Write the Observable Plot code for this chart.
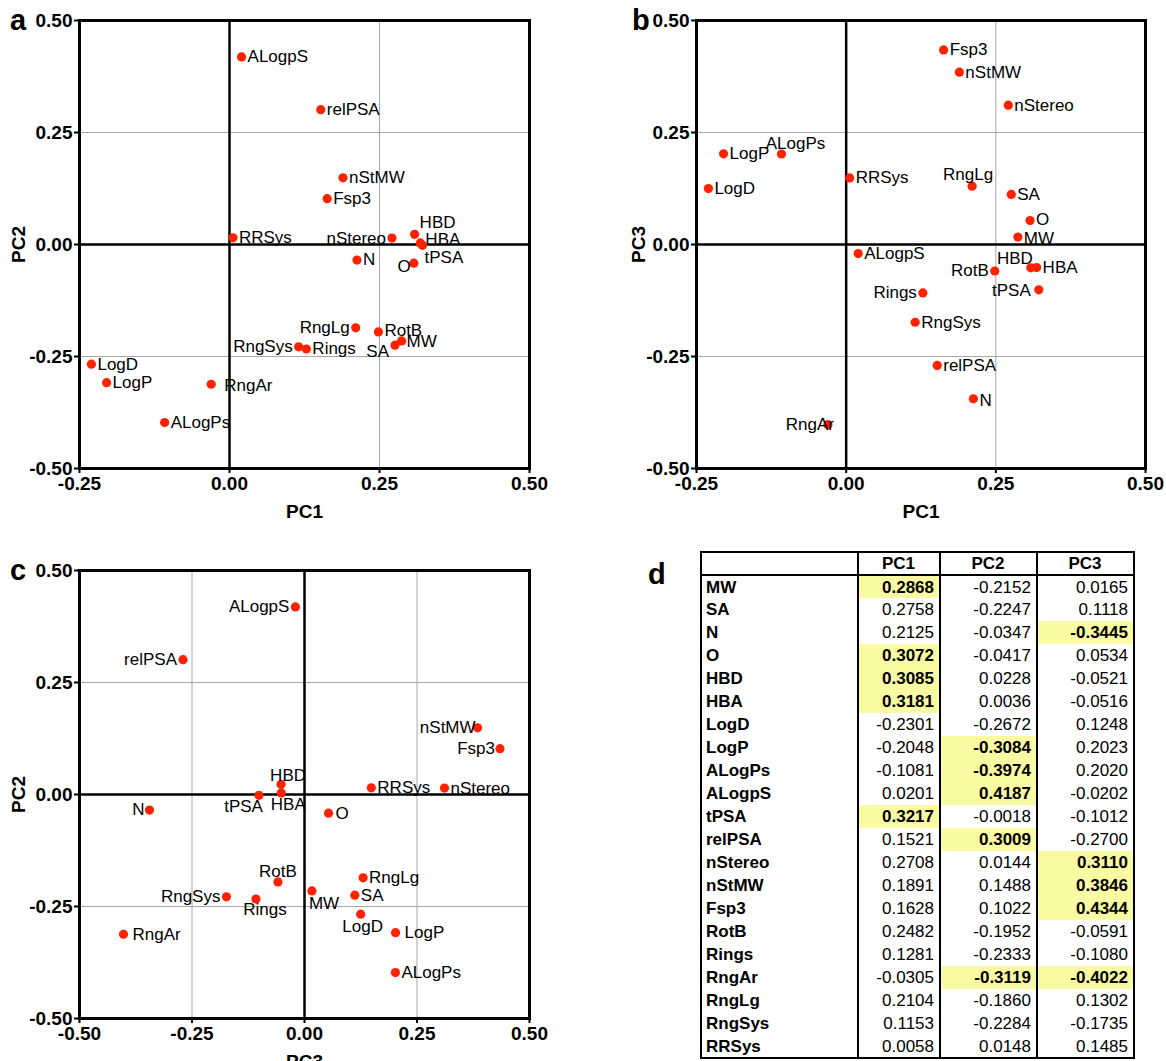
<!DOCTYPE html>
<html>
<head>
<meta charset="utf-8">
<script src="https://cdn.jsdelivr.net/npm/d3@7"></script>
<script src="https://cdn.jsdelivr.net/npm/@observablehq/plot@0.6"></script>
<style>
  html, body { margin: 0; padding: 0; background: #fff; overflow: hidden; width: 1166px; height: 1061px; }
  body { position: relative; font-family: "Liberation Sans", Arial, sans-serif; color: #000; }
  .panel { position: absolute; }
  .letter { position: absolute; font-weight: bold; font-size: 29px; line-height: 1; }
  #loadings {
    position: absolute; left: 700px; top: 551px;
    border-collapse: collapse; table-layout: fixed;
    font-size: 17px; border: 2px solid #000;
  }
  #loadings th, #loadings td {
    height: 23px; line-height: 21px; padding: 0 5px 0 4px; box-sizing: border-box;
    border-left: 2px solid #000; border-right: 2px solid #000; white-space: nowrap;
  }
  #loadings th { font-weight: bold; text-align: center; border-bottom: 2px solid #000; }
  #loadings td.name { font-weight: bold; text-align: left; }
  #loadings td.num { text-align: right; }
  #loadings td.hi { background: #fafaa2; font-weight: bold; }
</style>
</head>
<body>
<div id="panel-a" class="panel" style="left:0;top:0"></div>
<div id="panel-b" class="panel" style="left:600px;top:0"></div>
<div id="panel-c" class="panel" style="left:0;top:550px"></div>
<div class="letter" style="left:10px;top:6px">a</div>
<div class="letter" style="left:632px;top:6px">b</div>
<div class="letter" style="left:10px;top:556px">c</div>
<div class="letter" style="left:648px;top:560px">d</div>
<table id="loadings">
  <colgroup><col style="width:157px"><col style="width:82px"><col style="width:97px"><col style="width:97px"></colgroup>
  <thead></thead>
  <tbody></tbody>
</table>
<script>
// Descriptor loadings on the first three principal components
const variables = ["MW", "SA", "N", "O", "HBD", "HBA", "LogD", "LogP", "ALogPs", "ALogpS", "tPSA",
  "relPSA", "nStereo", "nStMW", "Fsp3", "RotB", "Rings", "RngAr", "RngLg", "RngSys", "RRSys"];
const pc1 = [0.2868, 0.2758, 0.2125, 0.3072, 0.3085, 0.3181, -0.2301, -0.2048, -0.1081, 0.0201, 0.3217,
  0.1521, 0.2708, 0.1891, 0.1628, 0.2482, 0.1281, -0.0305, 0.2104, 0.1153, 0.0058];
const pc2 = [-0.2152, -0.2247, -0.0347, -0.0417, 0.0228, 0.0036, -0.2672, -0.3084, -0.3974, 0.4187, -0.0018,
  0.3009, 0.0144, 0.1488, 0.1022, -0.1952, -0.2333, -0.3119, -0.1860, -0.2284, 0.0148];
const pc3 = [0.0165, 0.1118, -0.3445, 0.0534, -0.0521, -0.0516, 0.1248, 0.2023, 0.2020, -0.0202, -0.1012,
  -0.2700, 0.3110, 0.3846, 0.4344, -0.0591, -0.1080, -0.4022, 0.1302, -0.1735, 0.1485];
const components = ["PC1", "PC2", "PC3"];
const ticksPC1 = [-0.25, 0, 0.25, 0.5];
const ticksFull = [-0.5, -0.25, 0, 0.25, 0.5];
const HIGHLIGHT_MIN = 0.28; // loadings with |value| above this are shaded in the table

const loadings = variables.map((name, i) => ({name, PC1: pc1[i], PC2: pc2[i], PC3: pc3[i]}));

// Label placement for each biplot: [textAnchor, dx, dy]; unlisted labels sit to the right
const placeA = {
  nStereo: ["end", -6, 0], HBD: ["start", 5, -12], HBA: ["start", 5, -3], tPSA: ["start", 2, 12],
  O: ["end", -3, 3], RngLg: ["end", -6, 0], RotB: ["start", 6, -1], MW: ["start", 5, 1], SA: ["end", -6, 6],
  RngSys: ["end", -6, 0], RngAr: ["start", 13, 1]
};
const placeB = {
  ALogPs: ["middle", 14, -10], RngLg: ["middle", -4, -12], HBD: ["end", 2, -9],
  RotB: ["end", -6, 0], tPSA: ["end", -8, 1], Rings: ["end", -6, 0], RngAr: ["end", 6, 0], N: ["start", 6, 2],
  O: ["start", 6, -1], MW: ["start", 6, 1]
};
const placeC = {
  ALogpS: ["end", -6, 0], relPSA: ["end", -6, 0], nStMW: ["end", -2, 0], Fsp3: ["end", -5, 0],
  HBD: ["middle", 7, -9], HBA: ["middle", 7, 12], tPSA: ["end", 4, 11], N: ["end", -5, 0],
  O: ["start", 7, 0], RotB: ["middle", 0, -10], MW: ["start", -3, 13], RngSys: ["end", -6, 0],
  Rings: ["middle", 9, 11], LogD: ["middle", 2, 12], LogP: ["start", 9, 0], RngAr: ["start", 9, 0]
};

const fmt = d => d.toFixed(2);

function biplot({x, y, xDomain, xTicks, xLabel, yLabel, width, height,
                 marginLeft, marginRight, marginTop, marginBottom, xLabelOffset, yLabelOffset, placement}) {
  const labels = loadings.map(d => {
    const [anchor, dx, dy] = placement[d.name] ?? ["start", 6, 0];
    return Plot.text([d], {x, y, text: "name", textAnchor: anchor, dx, dy, fontSize: 17, fill: "#000"});
  });
  return Plot.plot({
    width, height, marginLeft, marginRight, marginTop, marginBottom,
    style: {fontFamily: '"Liberation Sans", Arial, sans-serif', color: "#000", background: "transparent", overflow: "visible"},
    x: {domain: xDomain},
    y: {domain: [-0.5, 0.5]},
    marks: [
      Plot.gridX(xTicks.filter(t => t !== 0), {stroke: "#a8a8a8", strokeOpacity: 1, strokeWidth: 1}),
      Plot.gridY(ticksFull.filter(t => t !== 0), {stroke: "#a8a8a8", strokeOpacity: 1, strokeWidth: 1}),
      Plot.ruleX([0], {stroke: "#000", strokeWidth: 2.5}),
      Plot.ruleY([0], {stroke: "#000", strokeWidth: 2.5}),
      Plot.frame({stroke: "#000", strokeWidth: 3}),
      Plot.axisX(xTicks, {
        tickSize: 5, tickPadding: 3, strokeWidth: 2, tickFormat: fmt,
        fontSize: 19, fontWeight: "bold",
        label: xLabel, labelAnchor: "center", labelArrow: "none", labelOffset: xLabelOffset
      }),
      Plot.axisY(ticksFull, {
        tickSize: 5, tickPadding: 2, strokeWidth: 2, tickFormat: fmt,
        fontSize: 19, fontWeight: "bold",
        label: yLabel, labelAnchor: "center", labelArrow: "none", labelOffset: yLabelOffset
      }),
      Plot.dot(loadings, {x, y, r: 4.6, fill: "#ff2200"}),
      ...labels
    ]
  });
}

document.getElementById("panel-a").append(biplot({
  x: "PC1", y: "PC2", xDomain: [-0.25, 0.5], xTicks: ticksPC1, xLabel: "PC1", yLabel: "PC2",
  width: 560, height: 540, marginLeft: 79, marginRight: 31, marginTop: 20, marginBottom: 72,
  xLabelOffset: 49, yLabelOffset: 68, placement: placeA
}));
document.getElementById("panel-b").append(biplot({
  x: "PC1", y: "PC3", xDomain: [-0.25, 0.5], xTicks: ticksPC1, xLabel: "PC1", yLabel: "PC3",
  width: 566, height: 540, marginLeft: 96, marginRight: 21, marginTop: 20, marginBottom: 72,
  xLabelOffset: 49, yLabelOffset: 65, placement: placeB
}));
document.getElementById("panel-c").append(biplot({
  x: "PC3", y: "PC2", xDomain: [-0.5, 0.5], xTicks: ticksFull, xLabel: "PC3", yLabel: "PC2",
  width: 560, height: 520, marginLeft: 79, marginRight: 31, marginTop: 20, marginBottom: 52,
  xLabelOffset: 49, yLabelOffset: 68, placement: placeC
}));

// Loadings table
const thead = d3.select("#loadings thead").append("tr");
thead.append("th");
thead.selectAll("th.pc").data(components).join("th").attr("class", "pc").text(d => d);
const rows = d3.select("#loadings tbody").selectAll("tr").data(loadings).join("tr");
rows.append("td").attr("class", "name").text(d => d.name);
rows.selectAll("td.num")
  .data(d => components.map(k => d[k]))
  .join("td")
  .attr("class", v => "num" + (Math.abs(v) > HIGHLIGHT_MIN ? " hi" : ""))
  .text(v => v.toFixed(4));
</script>
</body>
</html>
